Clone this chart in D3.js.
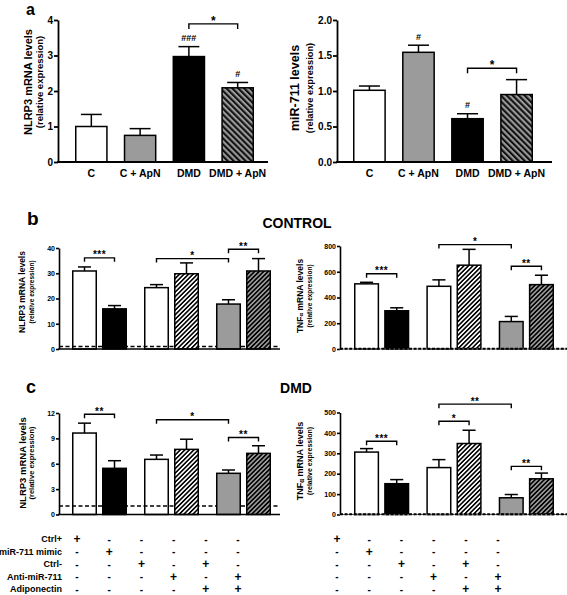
<!DOCTYPE html>
<html><head><meta charset="utf-8">
<script src="https://cdn.jsdelivr.net/npm/d3@7"></script>
<style>
body{margin:0;background:#fff}
svg{display:block}
text{font-family:"Liberation Sans",Arial,sans-serif;font-weight:bold;fill:#000}
</style>
</head><body>
<svg id="chart" width="567" height="595"></svg>
<script>
// ---------------- DATA ----------------
const aCategories = ["C", "C + ApN", "DMD", "DMD + ApN"];
const aNlrp3Mean = [1.0, 0.75, 2.97, 2.09];
const aNlrp3Err  = [0.34, 0.19, 0.28, 0.15];
const aNlrp3Hash = ["", "", "###", "#"];
const aMir711Mean = [1.01, 1.545, 0.61, 0.95];
const aMir711Err  = [0.06, 0.10, 0.07, 0.21];
const aMir711Hash = ["", "#", "#", ""];
const aNlrp3Ticks = [0, 1, 2, 3, 4];
const aMir711Ticks = [0, 0.5, 1.0, 1.5, 2.0];

const conditions = ["Ctrl+", "miR-711 mimic", "Ctrl-", "Anti-miR-711", "Ctrl- + Adiponectin", "Anti-miR-711 + Adiponectin"];
const groups = ["G1", "G2", "G3"];
const bNlrp3Mean = [30.9, 15.9, 24.3, 29.8, 17.8, 30.9];
const bNlrp3Err  = [1.6, 1.3, 1.2, 4.3, 1.7, 4.9];
const bTnfMean   = [506, 297, 487, 651, 213, 500];
const bTnfErr    = [12, 23, 50, 123, 40, 73];
const cNlrp3Mean = [9.63, 5.46, 6.52, 7.7, 4.87, 7.23];
const cNlrp3Err  = [1.17, 0.9, 0.51, 1.2, 0.39, 0.9];
const cTnfMean   = [306, 151, 230, 348, 82, 175];
const cTnfErr    = [17, 20, 39, 65, 16, 28];
const bNlrp3Ticks = [0, 10, 20, 30, 40];
const bTnfTicks = [0, 200, 400, 600, 800];
const cNlrp3Ticks = [0, 3, 6, 9, 12];
const cTnfTicks = [0, 100, 200, 300, 400, 500];
const baselineLevel = 1;

// significance brackets: [fromIndex, toIndex, level, label]
const aNlrp3Brackets = [[2, 3, 3.89, "*"]];
const aMir711Brackets = [[2, 3, 1.32, "*"]];
const bNlrp3Brackets = [[0, 1, 36.1, "***"], [2, 4, 35.8, "*"], [4, 5, 39.5, "**"]];
const bTnfBrackets = [[0, 1, 584, "***"], [2, 4, 811, "*"], [4, 5, 643, "**"]];
const cNlrp3Brackets = [[0, 1, 11.85, "**"], [2, 4, 11.2, "*"], [4, 5, 9.1, "**"]];
const cTnfBrackets = [[0, 1, 359, "***"], [2, 3, 457, "*"], [2, 4, 541, "**"], [4, 5, 236, "**"]];

const treatmentRows = ["Ctrl+", "miR-711 mimic", "Ctrl-", "Anti-miR-711", "Adiponectin"];
const treatmentMatrix = [
  ["+", "-", "-", "-", "-", "-"],
  ["-", "+", "-", "-", "-", "-"],
  ["-", "-", "+", "-", "+", "-"],
  ["-", "-", "-", "+", "-", "+"],
  ["-", "-", "-", "-", "+", "+"]
];

// ---------------- DRAW ----------------
const svg = d3.select("#chart");
svg.append("rect").attr("width", 567).attr("height", 595).attr("fill", "#fff");
const defs = svg.append("defs");
function hatch(id, bg, fg, size, angle) {
  const p = defs.append("pattern").attr("id", id).attr("patternUnits", "userSpaceOnUse")
    .attr("width", size).attr("height", size).attr("patternTransform", `rotate(${angle})`);
  p.append("rect").attr("width", size).attr("height", size).attr("fill", bg);
  p.append("rect").attr("width", size * 0.5).attr("height", size).attr("fill", fg);
}
const GRAY = "#9b9b9b";
hatch("hA", GRAY, "#111", 4.2, -45);
hatch("hBW", "#fff", "#000", 3.2, 45);
hatch("hBG", GRAY, "#000", 3.2, 45);

const aFills = ["none", GRAY, "#000", "url(#hA)"];
const bcFills = ["none", "#000", "none", "url(#hBW)", GRAY, "url(#hBG)"];

function drawPanel(o) {
  const g = svg.append("g");
  const y = d3.scaleLinear().domain([0, o.ticks[o.ticks.length - 1]]).range([o.yBase, o.yTop]);
  let xc, bw;
  if (o.grouped) {
    const outer = d3.scaleBand().domain(groups).range(o.barRange).paddingInner(0.236).paddingOuter(0);
    const inner = d3.scaleBand().domain([0, 1]).range([0, outer.bandwidth()]).paddingInner(1 / 6).paddingOuter(0);
    bw = inner.bandwidth();
    xc = i => outer(groups[Math.floor(i / 2)]) + inner(i % 2) + bw / 2;
  } else {
    const xb = d3.scaleBand().domain(o.cats).range(o.barRange).paddingInner(0.33).paddingOuter(0);
    bw = xb.bandwidth();
    xc = i => xb(o.cats[i]) + bw / 2;
  }
  // dashed reference line (behind bars when above the axis)
  const dashOnAxis = o.dashed && (o.yBase - y(baselineLevel)) < 2;
  if (o.dashed && !dashOnAxis) {
    g.append("line").attr("x1", o.axisX).attr("x2", o.axisEnd)
      .attr("y1", y(baselineLevel)).attr("y2", y(baselineLevel))
      .attr("stroke", "#000").attr("stroke-width", 1.4).attr("stroke-dasharray", "4,2.5");
  }
  // error bars
  o.mean.forEach((m, i) => {
    const cx = xc(i), top = y(m + o.err[i]);
    g.append("line").attr("x1", cx).attr("x2", cx).attr("y1", y(m)).attr("y2", top)
      .attr("stroke", "#000").attr("stroke-width", 1.5);
    g.append("line").attr("x1", cx - bw * o.cap).attr("x2", cx + bw * o.cap).attr("y1", top).attr("y2", top)
      .attr("stroke", "#000").attr("stroke-width", 1.5);
  });
  // bars
  g.selectAll("rect.bar").data(o.mean).enter().append("rect")
    .attr("x", (d, i) => xc(i) - bw / 2 + 0.75).attr("width", bw - 1.5)
    .attr("y", d => y(d)).attr("height", d => o.yBase - y(d))
    .attr("fill", (d, i) => o.fills[i]).attr("stroke", "#000").attr("stroke-width", 1.5);
  // y axis
  const ax = g.append("g").attr("transform", `translate(${o.axisX},0)`)
    .call(d3.axisLeft(y).tickValues(o.ticks).tickFormat(d3.format(o.fmt)).tickSizeOuter(0).tickSizeInner(o.tickLen).tickPadding(1));
  ax.select(".domain").attr("stroke-width", o.axW);
  ax.selectAll(".tick line").attr("stroke-width", o.axW);
  ax.selectAll(".tick text").attr("font-size", o.tickFont).attr("font-family", "Liberation Sans, Arial").attr("font-weight", "bold");
  // x axis line
  if (dashOnAxis) {
    g.append("line").attr("x1", o.axisX - o.axW / 2).attr("x2", o.axisEnd).attr("y1", o.yBase).attr("y2", o.yBase)
      .attr("stroke", "#666").attr("stroke-width", 1);
    g.append("line").attr("x1", o.axisX).attr("x2", o.axisEnd).attr("y1", o.yBase - 0.3).attr("y2", o.yBase - 0.3)
      .attr("stroke", "#000").attr("stroke-width", 2).attr("stroke-dasharray", "3,1.6");
  } else {
    g.append("line").attr("x1", o.axisX - o.axW / 2).attr("x2", o.axisEnd).attr("y1", o.yBase).attr("y2", o.yBase)
      .attr("stroke", "#000").attr("stroke-width", o.axW);
  }
  // category labels
  if (o.cats) {
    o.cats.forEach((c, i) => {
      g.append("text").attr("x", xc(i)).attr("y", o.yBase + 15).attr("text-anchor", "middle")
        .attr("font-size", 10.5).text(c);
    });
  }
  // hashes
  if (o.hash) {
    o.hash.forEach((h, i) => {
      if (!h) return;
      g.append("text").attr("x", xc(i)).attr("y", y(o.mean[i] + o.err[i]) - 5.5).attr("text-anchor", "middle")
        .attr("font-size", 9).attr("font-weight", "normal").text(h);
    });
  }
  // brackets
  o.brackets.forEach(([a, b, lvl, lab]) => {
    const x1 = xc(a), x2 = xc(b), yy = y(lvl);
    g.append("path").attr("d", `M${x1},${yy + o.leg}V${yy}H${x2}V${yy + o.leg}`)
      .attr("fill", "none").attr("stroke", "#000").attr("stroke-width", 1.4);
    g.append("text").attr("x", (x1 + x2) / 2).attr("y", yy + o.starDy).attr("text-anchor", "middle")
      .attr("font-size", o.starFont).attr("letter-spacing", o.starSp).text(lab);
  });
  // y labels
  const t1 = g.append("text").attr("transform", `translate(${o.lab1x},${o.labY}) rotate(-90)`)
    .attr("text-anchor", "middle").attr("dominant-baseline", "central").attr("font-size", o.lab1Font);
  if (o.tnf) {
    t1.append("tspan").text("TNF");
    t1.append("tspan").attr("font-size", o.lab1Font * 0.7).attr("dy", 1).text("α");
    t1.append("tspan").attr("dy", -1).text(" mRNA levels");
  } else {
    t1.text(o.lab1);
  }
  g.append("text").attr("transform", `translate(${o.lab2x},${o.labY}) rotate(-90)`)
    .attr("text-anchor", "middle").attr("dominant-baseline", "central").attr("font-size", o.lab2Font)
    .text("(relative expression)");
}

const aCommon = { yTop: 20, yBase: 162, tickLen: 4, axW: 1.8, tickFont: 10, cap: 0.32, leg: 5, starDy: 1, starFont: 12, starSp: 0 };
drawPanel(Object.assign({}, aCommon, {
  cats: aCategories, mean: aNlrp3Mean, err: aNlrp3Err, hash: aNlrp3Hash, ticks: aNlrp3Ticks, fmt: "d",
  fills: aFills, axisX: 58, axisEnd: 268, barRange: [75, 254], brackets: aNlrp3Brackets,
  lab1: "NLRP3 mRNA levels", lab1x: 28, lab1Font: 11, lab2x: 39, lab2Font: 9.5, labY: 82
}));
drawPanel(Object.assign({}, aCommon, {
  cats: aCategories, mean: aMir711Mean, err: aMir711Err, hash: aMir711Hash, ticks: aMir711Ticks, fmt: ".1f",
  fills: aFills, axisX: 337, axisEnd: 552, barRange: [353, 533], brackets: aMir711Brackets,
  lab1: "miR-711 levels", lab1x: 295, lab1Font: 12.5, lab2x: 310, lab2Font: 9.3, labY: 88
}));

const bcCommon = { grouped: true, tickLen: 3, axW: 1.6, tickFont: 7, cap: 0.26, leg: 4, starDy: 0.5, starFont: 10, starSp: 0.5, dashed: true, fills: bcFills };
drawPanel(Object.assign({}, bcCommon, {
  mean: bNlrp3Mean, err: bNlrp3Err, ticks: bNlrp3Ticks, fmt: "d", yTop: 248, yBase: 349,
  axisX: 59, axisEnd: 280, barRange: [72, 271], brackets: bNlrp3Brackets,
  lab1: "NLRP3 mRNA levels", lab1x: 22, lab1Font: 8.5, lab2x: 31, lab2Font: 6.5, labY: 292
}));
drawPanel(Object.assign({}, bcCommon, {
  mean: bTnfMean, err: bTnfErr, ticks: bTnfTicks, fmt: "d", yTop: 246, yBase: 349,
  axisX: 340, axisEnd: 567, barRange: [354, 554], brackets: bTnfBrackets,
  tnf: true, lab1x: 300, lab1Font: 8.5, lab2x: 309, lab2Font: 6.5, labY: 296
}));
drawPanel(Object.assign({}, bcCommon, {
  mean: cNlrp3Mean, err: cNlrp3Err, ticks: cNlrp3Ticks, fmt: "d", yTop: 413, yBase: 514.5,
  axisX: 59, axisEnd: 280, barRange: [72, 271], brackets: cNlrp3Brackets,
  lab1: "NLRP3 mRNA levels", lab1x: 22, lab1Font: 9.5, lab2x: 31, lab2Font: 7.5, labY: 463
}));
drawPanel(Object.assign({}, bcCommon, {
  mean: cTnfMean, err: cTnfErr, ticks: cTnfTicks, fmt: "d", yTop: 412.5, yBase: 514.5,
  axisX: 340, axisEnd: 567, barRange: [354, 554], brackets: cTnfBrackets,
  tnf: true, lab1x: 300, lab1Font: 9, lab2x: 309, lab2Font: 7, labY: 461
}));

// panel letters & titles
svg.append("text").attr("x", 26).attr("y", 15).attr("font-size", 16).text("a");
svg.append("text").attr("x", 27).attr("y", 225).attr("font-size", 19).text("b");
svg.append("text").attr("x", 26).attr("y", 393).attr("font-size", 18).text("c");
svg.append("text").attr("x", 297).attr("y", 228).attr("text-anchor", "middle").attr("font-size", 14).text("CONTROL");
svg.append("text").attr("x", 296).attr("y", 393).attr("text-anchor", "middle").attr("font-size", 14).text("DMD");

// treatment table
const rowY = d3.scaleLinear().domain([0, treatmentRows.length - 1]).range([539, 589]);
const colLeft = d3.scalePoint().domain(d3.range(6)).range([77, 238]);
const colRight = d3.scalePoint().domain(d3.range(6)).range([337, 498]);
treatmentRows.forEach((r, ri) => {
  svg.append("text").attr("x", 62).attr("y", rowY(ri)).attr("text-anchor", "end").attr("dominant-baseline", "central")
    .attr("font-family", "Lato, 'Open Sans', sans-serif").attr("font-size", 9).text(r);
  treatmentMatrix[ri].forEach((s, ci) => {
    [colLeft, colRight].forEach(col => {
      svg.append("text").attr("x", col(ci)).attr("y", rowY(ri)).attr("text-anchor", "middle")
        .attr("dominant-baseline", "central").attr("font-size", s === "+" ? 12 : 10).text(s);
    });
  });
});
</script>
</body></html>
